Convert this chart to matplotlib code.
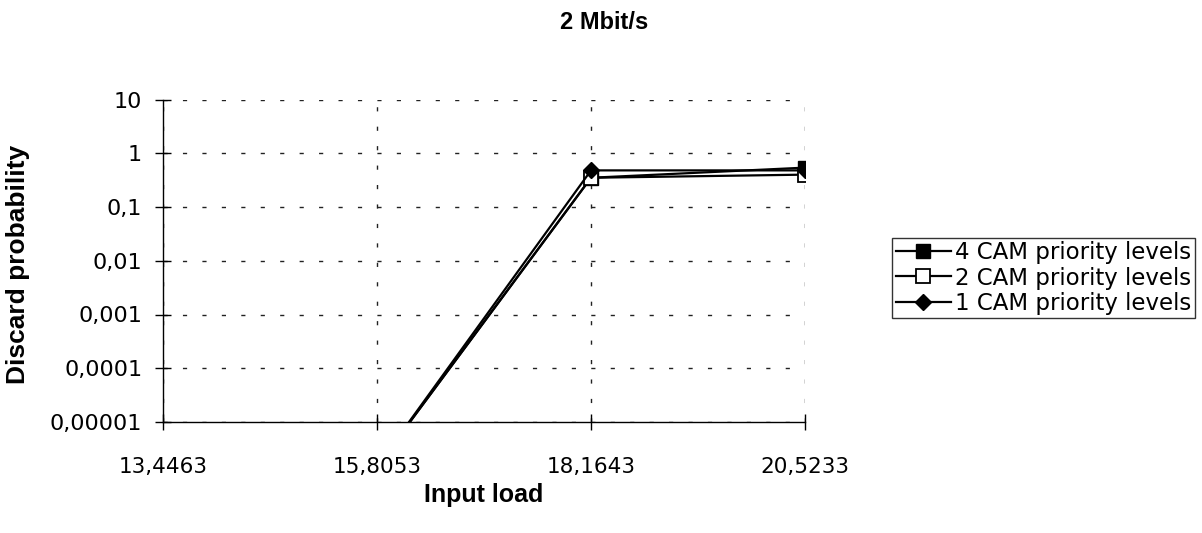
import matplotlib
matplotlib.use("Agg")
import matplotlib.pyplot as plt
from matplotlib.ticker import FixedLocator, FixedFormatter, NullLocator

# Chart data
categories = ["13,4463", "15,8053", "18,1643", "20,5233"]
cam4 = [1e-7, 1.5e-6, 0.35, 0.54]
cam2 = [1e-7, 1.5e-6, 0.35, 0.40]
cam1 = [1e-7, 1.5e-6, 0.48, 0.48]
series_names = ["4 CAM priority levels", "2 CAM priority levels", "1 CAM priority levels"]
ytick_values = [1e-5, 1e-4, 1e-3, 1e-2, 1e-1, 1, 10]
ytick_labels = ["0,00001", "0,0001", "0,001", "0,01", "0,1", "1", "10"]

plt.rcParams["font.family"] = ["Liberation Sans", "DejaVu Sans"]
wide = ["DejaVu Sans"]

W, H = 1202, 533
fig = plt.figure(figsize=(W / 100, H / 100), dpi=100)
ax = fig.add_axes([163 / W, 1 - 422 / H, (805 - 163) / W, (422 - 99.5) / H])

x = list(range(len(categories)))
ax.plot(x, cam4, color="black", lw=1.6, marker="s", ms=10.5,
        mfc="black", mec="black", label=series_names[0], zorder=3)
ax.plot(x, cam2, color="black", lw=1.6, marker="s", ms=10,
        mfc="white", mec="black", mew=1.3, label=series_names[1], zorder=4)
ax.plot(x, cam1, color="black", lw=1.6, marker="D", ms=8.5,
        mfc="black", mec="black", label=series_names[2], zorder=5)

ax.set_yscale("log")
ax.set_ylim(1e-5, 10)
ax.set_xlim(0, len(categories) - 1)
ax.yaxis.set_major_locator(FixedLocator(ytick_values))
ax.yaxis.set_major_formatter(FixedFormatter(ytick_labels))
ax.yaxis.set_minor_locator(NullLocator())
ax.set_xticks(x)
ax.set_xticklabels(categories)

for side in ("top", "right"):
    ax.spines[side].set_visible(False)
for side in ("left", "bottom"):
    ax.spines[side].set_linewidth(1.0)
    ax.spines[side].set_color("black")

ax.tick_params(axis="both", direction="inout", length=12, width=1.0,
               colors="black")
ax.tick_params(axis="y", pad=9, labelsize=16)
ax.tick_params(axis="x", pad=19, labelsize=15.5)
for lab in ax.get_xticklabels() + ax.get_yticklabels():
    lab.set_family(wide)

ax.grid(True, which="major", color="#222222", lw=1.0, linestyle=(0, (3, 11)))
ax.set_axisbelow(True)

ax.set_ylabel("Discard probability", fontsize=19, fontweight="bold", va="center")
ax.yaxis.set_label_coords((18 - 163) / 642, 0.49)
ax.set_xlabel("Input load", fontsize=18, fontweight="bold", va="center")
ax.xaxis.set_label_coords(0.5, (422 - 495) / 322.5)
fig.text(0.503, 1 - 22 / H, "2 Mbit/s", ha="center", va="center",
         fontsize=17, fontweight="bold")

leg = ax.legend(loc="center right", bbox_to_anchor=(1195 / W, 1 - 278 / H),
                bbox_transform=fig.transFigure, frameon=True,
                prop={"family": wide, "size": 16.5},
                fancybox=False, edgecolor="black", handlelength=2.4,
                handletextpad=0.2, borderpad=0.15, labelspacing=0.1,
                borderaxespad=0)
leg.get_frame().set_linewidth(1.0)

fig.savefig("out.png", dpi=100)
